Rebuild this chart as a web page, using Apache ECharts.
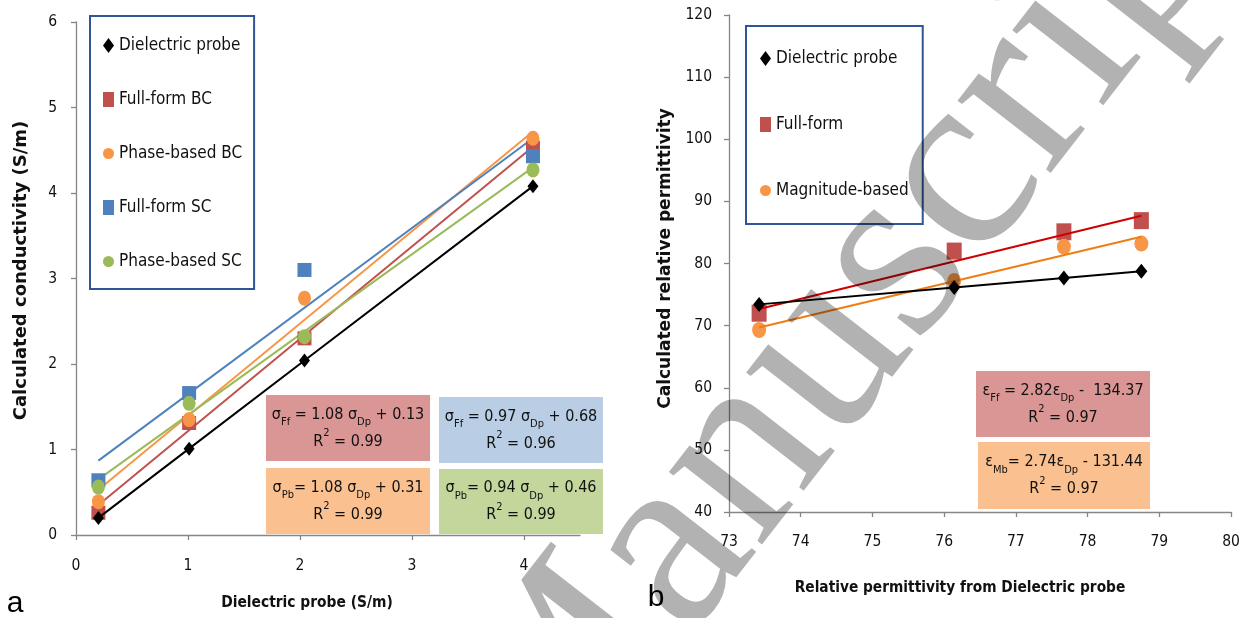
<!DOCTYPE html>
<html>
<head>
<meta charset="utf-8">
<script src="https://cdn.jsdelivr.net/npm/echarts@6/dist/echarts.min.js"></script>
<style>
  html, body { margin: 0; padding: 0; background: #fff; }
  #main { width: 1250px; height: 618px; }
</style>
</head>
<body>
<div id="main"></div>
<script>
// ---- data ----
// panel a: conductivity
const dpX = [0.2, 1.01, 2.04, 4.08];
const dpY = [0.2, 1.01, 2.04, 4.08];
const ffBC = [0.26, 1.31, 2.30, 4.53];
const pbBC = [0.39, 1.35, 2.77, 4.64];
const ffSC = [0.64, 1.66, 3.10, 4.43];
const pbSC = [0.56, 1.54, 2.32, 4.27];
// trendline end points
const trendFfBC = [[0.2, 0.35], [4.08, 4.54]];
const trendPbBC = [[0.2, 0.53], [4.08, 4.72]];
const trendFfSC = [[0.2, 0.87], [4.08, 4.64]];
const trendPbSC = [[0.2, 0.65], [4.08, 4.30]];
const xTicksA = [0, 1, 2, 3, 4];

// panel b: permittivity
const dpXb = [73.42, 76.14, 77.67, 78.75];
const dpYb = [73.42, 76.14, 77.67, 78.75];
const ffB = [72.0, 82.0, 85.1, 86.9];
const mbB = [69.3, 77.2, 82.7, 83.2];
const trendFfB = [[73.42, 72.67], [78.75, 87.7]];
const trendMbB = [[73.42, 69.7], [78.75, 84.3]];

const F = "'DejaVu Sans Condensed', 'Liberation Sans Narrow', 'Open Sans', sans-serif";
const FT = "'DejaVu Sans', 'Noto Sans', sans-serif";
const axisGrey = '#868686';

function pts(xs, ys) {
  return xs.map((x, i) => [x, ys[i]]);
}

const chart = echarts.init(document.getElementById('main'));

const commonAxis = {
  type: 'value',
  splitLine: { show: false },
  axisLine: { show: true, lineStyle: { color: axisGrey, width: 1.3 } },
  axisTick: { show: true, length: 5, lineStyle: { color: axisGrey, width: 1.3 } },
  axisLabel: { color: '#111', fontFamily: F, fontSize: 15.5 }
};

function eqRich(size) {
  const sub = Math.round(size * 0.68);
  return {
    n: { fontFamily: F, fontSize: size, lineHeight: 27, fill: '#111', verticalAlign: 'middle' },
    s: { fontFamily: F, fontSize: sub, lineHeight: sub, fill: '#111', verticalAlign: 'bottom' },
    p: { fontFamily: F, fontSize: sub, lineHeight: sub, fill: '#111', verticalAlign: 'top' }
  };
}

function eqBox(x, y, w, h, color, text, size) {
  return [
    { type: 'rect', shape: { x: x, y: y, width: w, height: h }, style: { fill: color }, z: 10 },
    {
      type: 'text', x: x + w / 2, y: y + h / 2, z: 11,
      style: { text: text, rich: eqRich(size), align: 'center', verticalAlign: 'middle' }
    }
  ];
}

const option = {
  animation: false,
  grid: [
    { left: 76, top: 22, width: 504, height: 513 },
    { left: 729, top: 15, width: 502, height: 497 }
  ],
  xAxis: [
    Object.assign({}, commonAxis, {
      gridIndex: 0, min: 0, max: 4.5, interval: 1,
      axisTick: Object.assign({}, commonAxis.axisTick, { customValues: xTicksA }),
      axisLabel: Object.assign({}, commonAxis.axisLabel, { margin: 23, customValues: xTicksA }),
      name: 'Dielectric probe (S/m)', nameLocation: 'middle', nameGap: 60,
      nameTextStyle: { fontFamily: F, fontWeight: 'bold', fontSize: 15.4, color: '#111', padding: [0, 42, 0, 0] }
    }),
    Object.assign({}, commonAxis, {
      gridIndex: 1, min: 73, max: 80, interval: 1,
      axisLabel: Object.assign({}, commonAxis.axisLabel, { margin: 22 }),
      name: 'Relative permittivity from Dielectric probe', nameLocation: 'middle', nameGap: 69,
      nameTextStyle: { fontFamily: F, fontWeight: 'bold', fontSize: 15.3, color: '#111', padding: [0, 40, 0, 0] }
    })
  ],
  yAxis: [
    Object.assign({}, commonAxis, {
      gridIndex: 0, min: 0, max: 6, interval: 1,
      axisLabel: Object.assign({}, commonAxis.axisLabel, { margin: 19 }),
      name: 'Calculated conductivity (S/m)', nameLocation: 'middle', nameGap: 46, nameRotate: 90,
      nameTextStyle: { fontFamily: FT, fontWeight: 'bold', fontSize: 18, color: '#111', padding: [0, 0, 0, 16] }
    }),
    Object.assign({}, commonAxis, {
      gridIndex: 1, min: 40, max: 120, interval: 10,
      axisLabel: Object.assign({}, commonAxis.axisLabel, { margin: 17 }),
      name: 'Calculated relative permittivity', nameLocation: 'middle', nameGap: 55, nameRotate: 90,
      nameTextStyle: { fontFamily: FT, fontWeight: 'bold', fontSize: 17, color: '#111', padding: [0, 0, 0, 10] }
    })
  ],
  legend: [
    {
      left: 90, top: 16, orient: 'vertical',
      borderColor: '#2F5597', borderWidth: 2, padding: [21, 12, 19, 13],
      itemWidth: 11, itemHeight: 15, itemGap: 37,
      textStyle: { fontFamily: F, fontSize: 17, color: '#111' },
      data: [
        { name: 'Dielectric probe', icon: 'diamond' },
        { name: 'Full-form BC', icon: 'rect' },
        { name: 'Phase-based BC', icon: 'circle' },
        { name: 'Full-form SC', icon: 'rect' },
        { name: 'Phase-based SC', icon: 'circle' }
      ]
    },
    {
      left: 746, top: 26, orient: 'vertical',
      borderColor: '#2F5597', borderWidth: 2, padding: [24, 14, 25, 14],
      itemWidth: 11, itemHeight: 15, itemGap: 49,
      textStyle: { fontFamily: F, fontSize: 17, color: '#111' },
      data: [
        { name: 'Dielectric probe', icon: 'diamond' },
        { name: 'Full-form', icon: 'rect' },
        { name: 'Magnitude-based', icon: 'circle' }
      ]
    }
  ],
  series: [
    // panel a
    { name: 'trend FfBC', type: 'line', xAxisIndex: 0, yAxisIndex: 0, data: trendFfBC, symbol: 'none', silent: true, z: 1, lineStyle: { color: '#C0504D', width: 2 } },
    { name: 'trend PbBC', type: 'line', xAxisIndex: 0, yAxisIndex: 0, data: trendPbBC, symbol: 'none', silent: true, z: 1, lineStyle: { color: '#F79646', width: 2 } },
    { name: 'trend FfSC', type: 'line', xAxisIndex: 0, yAxisIndex: 0, data: trendFfSC, symbol: 'none', silent: true, z: 1, lineStyle: { color: '#4F81BD', width: 2 } },
    { name: 'trend PbSC', type: 'line', xAxisIndex: 0, yAxisIndex: 0, data: trendPbSC, symbol: 'none', silent: true, z: 1, lineStyle: { color: '#9BBB59', width: 2 } },
    {
      name: 'Dielectric probe', type: 'line', xAxisIndex: 0, yAxisIndex: 0, data: pts(dpX, dpY),
      symbol: 'diamond', symbolSize: [11, 14], z: 3,
      itemStyle: { color: '#000' }, lineStyle: { color: '#000', width: 2 }
    },
    { name: 'Full-form BC', type: 'scatter', xAxisIndex: 0, yAxisIndex: 0, data: pts(dpX, ffBC), symbol: 'rect', symbolSize: 14, z: 2, itemStyle: { color: '#C0504D', opacity: 1 } },
    { name: 'Phase-based BC', type: 'scatter', xAxisIndex: 0, yAxisIndex: 0, data: pts(dpX, pbBC), symbol: 'circle', symbolSize: [13, 15], z: 2, itemStyle: { color: '#F79646', opacity: 1 } },
    { name: 'Full-form SC', type: 'scatter', xAxisIndex: 0, yAxisIndex: 0, data: pts(dpX, ffSC), symbol: 'rect', symbolSize: 14, z: 2, itemStyle: { color: '#4F81BD', opacity: 1 } },
    { name: 'Phase-based SC', type: 'scatter', xAxisIndex: 0, yAxisIndex: 0, data: pts(dpX, pbSC), symbol: 'circle', symbolSize: [13, 15], z: 2, itemStyle: { color: '#9BBB59', opacity: 1 } },
    // panel b
    { name: 'trend Ff', type: 'line', xAxisIndex: 1, yAxisIndex: 1, data: trendFfB, symbol: 'none', silent: true, z: 3, lineStyle: { color: '#D00000', width: 2 } },
    { name: 'trend Mb', type: 'line', xAxisIndex: 1, yAxisIndex: 1, data: trendMbB, symbol: 'none', silent: true, z: 3, lineStyle: { color: '#F07D14', width: 2 } },
    {
      name: 'Dielectric probe', type: 'line', xAxisIndex: 1, yAxisIndex: 1, data: pts(dpXb, dpYb),
      symbol: 'diamond', symbolSize: [12, 15], z: 3,
      itemStyle: { color: '#000' }, lineStyle: { color: '#000', width: 2 }
    },
    { name: 'Full-form', type: 'scatter', xAxisIndex: 1, yAxisIndex: 1, data: pts(dpXb, ffB), symbol: 'rect', symbolSize: [15, 17], z: 2, itemStyle: { color: '#C0504D', opacity: 1 } },
    { name: 'Magnitude-based', type: 'scatter', xAxisIndex: 1, yAxisIndex: 1, data: pts(dpXb, mbB), symbol: 'circle', symbolSize: [14, 16], z: 2, itemStyle: { color: '#F79646', opacity: 1 } }
  ],
  graphic: [].concat(
    eqBox(266, 395, 164, 66, '#D99694', '{n|σ}{s|Ff}{n| = 1.08 σ}{s|Dp}{n| + 0.13}\n{n|R}{p|2}{n| = 0.99}', 16),
    eqBox(439, 397, 164, 66, '#B9CDE5', '{n|σ}{s|Ff}{n| = 0.97 σ}{s|Dp}{n| + 0.68}\n{n|R}{p|2}{n| = 0.96}', 16),
    eqBox(266, 468, 164, 66, '#FAC090', '{n|σ}{s|Pb}{n|= 1.08 σ}{s|Dp}{n| + 0.31}\n{n|R}{p|2}{n| = 0.99}', 16),
    eqBox(439, 469, 164, 65, '#C3D69B', '{n|σ}{s|Pb}{n|= 0.94 σ}{s|Dp}{n| + 0.46}\n{n|R}{p|2}{n| = 0.99}', 16),
    eqBox(976, 371, 174, 66, '#D99694', '{n|ε}{s|Ff}{n| = 2.82ε}{s|Dp}{n| -  134.37}\n{n|R}{p|2}{n| = 0.97}', 16),
    eqBox(978, 442, 172, 67, '#FAC090', '{n|ε}{s|Mb}{n|= 2.74ε}{s|Dp}{n| - 131.44}\n{n|R}{p|2}{n| = 0.97}', 16),
    [
      { type: 'text', x: 15, y: 604, z: 12, style: { text: 'a', font: "30px 'Liberation Sans', sans-serif", fill: '#000', align: 'center', verticalAlign: 'middle' } },
      { type: 'text', x: 656, y: 598, z: 12, style: { text: 'b', font: "30px 'Liberation Sans', sans-serif", fill: '#000', align: 'center', verticalAlign: 'middle' } },
      {
        type: 'text', x: 854, y: 316, rotation: 0.91, z: 100, silent: true,
        style: { text: 'Manuscript', font: "257px 'Liberation Serif', 'DejaVu Serif', serif", fill: 'rgba(0,0,0,0.3)', align: 'center', verticalAlign: 'middle' }
      }
    ]
  )
};

chart.setOption(option);
</script>
</body>
</html>
